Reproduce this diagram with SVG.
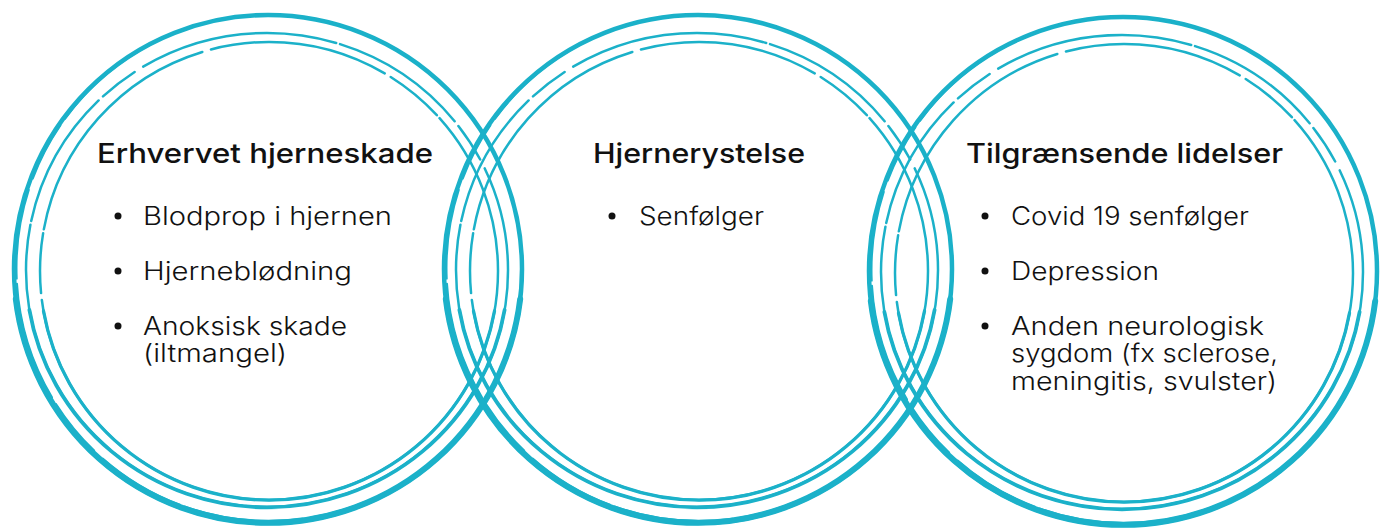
<svg xmlns="http://www.w3.org/2000/svg" xmlns:xlink="http://www.w3.org/1999/xlink" width="1388" height="532" viewBox="0 0 1388 532">
<style>
.r{fill:none;stroke:#1bb1c9;stroke-linecap:round}
.t{font-family:Inter,"DejaVu Sans",sans-serif;fill:#111;font-size:27px;font-weight:450}
.b{font-family:Inter,"DejaVu Sans",sans-serif;fill:#111;font-size:25px;font-weight:350}
.d{fill:#111}
</style>
<defs>
<g id="rings">
<ellipse class="r" cx="0" cy="0" rx="254" ry="254" stroke-width="4.5"/>
<ellipse class="r" cx="1" cy="-1" rx="252.5" ry="253" stroke-width="2" stroke-dasharray="60 8 120 5 90 12"/>
<ellipse class="r" cx="-1" cy="1" rx="241" ry="237" stroke-width="2.5" stroke-dasharray="140 6 40 10 200 4"/>
<ellipse class="r" cx="1" cy="2" rx="229" ry="229" stroke-width="2.5" stroke-dasharray="180 7 60 4 250 9"/>
<path class="r" d="M-237.6 40 A241 237 0 0 0 237.6 40" transform="translate(-1,1)" stroke-width="3.8"/>
<path class="r" d="M-225.5 40 A229 229 0 0 0 225.5 40" transform="translate(1,2)" stroke-width="3.3"/>
<path class="r" d="M-252.2 30 A254 254 0 0 0 252.2 30" stroke-width="6"/>
</g>
</defs>
<g id="connectors"/>
<g id="node-erhvervet">
<use xlink:href="#rings" href="#rings" transform="translate(268,269)"/>
<text class="t" x="97" y="163" textLength="336" lengthAdjust="spacingAndGlyphs">Erhvervet hjerneskade</text>
<circle class="d" cx="118" cy="216" r="3.5"/>
<text class="b" x="143" y="225" textLength="249" lengthAdjust="spacingAndGlyphs">Blodprop i hjernen</text>
<circle class="d" cx="118" cy="271" r="3.5"/>
<text class="b" x="143" y="280" textLength="209" lengthAdjust="spacingAndGlyphs">Hjerneblødning</text>
<circle class="d" cx="118" cy="326" r="3.5"/>
<text class="b" x="143" y="335" textLength="204" lengthAdjust="spacingAndGlyphs">Anoksisk skade</text>
<text class="b" x="143" y="362" textLength="144" lengthAdjust="spacingAndGlyphs">(iltmangel)</text>
</g>
<g id="node-hjernerystelse">
<use xlink:href="#rings" href="#rings" transform="translate(698,269)"/>
<text class="t" x="593" y="163" textLength="212" lengthAdjust="spacingAndGlyphs">Hjernerystelse</text>
<circle class="d" cx="612" cy="216" r="3.5"/>
<text class="b" x="639" y="225" textLength="125" lengthAdjust="spacingAndGlyphs">Senfølger</text>
</g>
<g id="node-tilgraensende">
<use xlink:href="#rings" href="#rings" transform="translate(1123,271)"/>
<text class="t" x="966" y="163" textLength="317" lengthAdjust="spacingAndGlyphs">Tilgrænsende lidelser</text>
<circle class="d" cx="985" cy="216" r="3.5"/>
<text class="b" x="1011" y="225" textLength="238" lengthAdjust="spacingAndGlyphs">Covid 19 senfølger</text>
<circle class="d" cx="985" cy="271" r="3.5"/>
<text class="b" x="1011" y="280" textLength="148" lengthAdjust="spacingAndGlyphs">Depression</text>
<circle class="d" cx="985" cy="326" r="3.5"/>
<text class="b" x="1011" y="335" textLength="253" lengthAdjust="spacingAndGlyphs">Anden neurologisk</text>
<text class="b" x="1011" y="362" textLength="267" lengthAdjust="spacingAndGlyphs">sygdom (fx sclerose,</text>
<text class="b" x="1011" y="390" textLength="266" lengthAdjust="spacingAndGlyphs">meningitis, svulster)</text>
</g>
</svg>
